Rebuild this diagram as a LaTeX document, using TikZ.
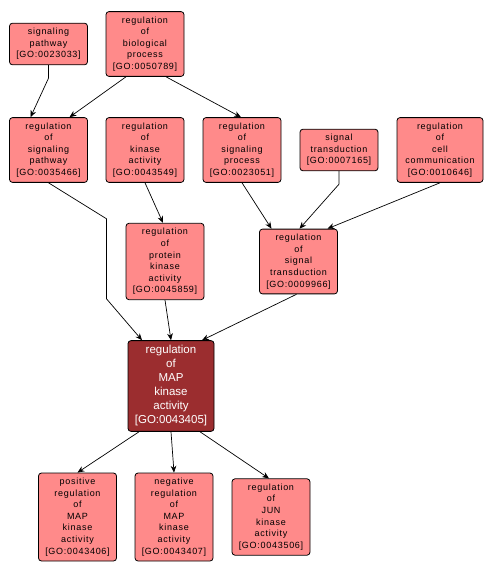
\documentclass[tikz,border=0pt]{standalone}
\usepackage{fontspec}
\setmainfont[LetterSpace=8]{Liberation Sans}
\newfontfamily\focusfont{Liberation Sans}
\usepackage{tikz}
\usetikzlibrary{arrows.meta}
\usepackage{xcolor}
\definecolor{termred}{HTML}{FF8A8A}
\definecolor{focusred}{HTML}{9B2D2F}

\begin{document}
\begin{tikzpicture}[
    x=1pt, y=-1pt,
    term/.style={rectangle, draw, line width=0.8pt, rounded corners=3pt, minimum width=78pt, inner xsep=4pt, inner ysep=5pt, fill=#1, font=\fontsize{9}{11.6}\selectfont, align=center},
    term/.default=termred,
    focus/.style={term=focusred, minimum width=86pt, text=white, font=\focusfont\fontsize{11.5}{14}\selectfont},
    arr/.style={-{Stealth[length=2.4mm, width=2mm]}, line width=0.7pt}
]
\useasboundingbox (0,0) rectangle (494,575);

% Top row
\node[term] (sp) at (48.5, 44) {signaling\\pathway\\{[GO:0023033]}};
\node[term] (rbp) at (145, 44) {regulation\\of\\biological\\process\\{[GO:0050789]}};

% Second row
\node[term] (rsp) at (48.5, 150) {regulation\\of\\signaling\\pathway\\{[GO:0035466]}};
\node[term] (rka) at (145, 150) {regulation\\of\\kinase\\activity\\{[GO:0043549]}};
\node[term] (rspr) at (242, 150) {regulation\\of\\signaling\\process\\{[GO:0023051]}};
\node[term] (st) at (339, 150) {signal\\transduction\\{[GO:0007165]}};
\node[term, minimum width=86pt] (rcc) at (440, 150) {regulation\\of\\cell\\communication\\{[GO:0010646]}};

% Third row
\node[term] (rpka) at (165, 261.5) {regulation\\of\\protein\\kinase\\activity\\{[GO:0045859]}};
\node[term] (rst) at (298.5, 261.5) {regulation\\of\\signal\\transduction\\{[GO:0009966]}};

% Focus term
\node[focus] (rmap) at (171, 386) {regulation\\of\\MAP\\kinase\\activity\\{[GO:0043405]}};

% Children
\node[term] (pos) at (77.5, 517) {positive\\regulation\\of\\MAP\\kinase\\activity\\{[GO:0043406]}};
\node[term] (neg) at (174, 517) {negative\\regulation\\of\\MAP\\kinase\\activity\\{[GO:0043407]}};
\node[term] (jun) at (271, 517) {regulation\\of\\JUN\\kinase\\activity\\{[GO:0043506]}};

% Arrows
\draw[arr] (sp.south) -- ++(0, 13) -- ([xshift=-18pt]rsp.north);
\draw[arr] ([xshift=-19pt]rbp.south) -- ([xshift=21pt]rsp.north);
\draw[arr] ([xshift=21pt]rbp.south) -- ([xshift=-1pt]rspr.north);
\draw[arr] (rsp.south) -- ++(58, 36) -- ++(0, 80) -- ([xshift=-29pt]rmap.north);
\draw[arr] (rka.south) -- ([xshift=-2pt]rpka.north);
\draw[arr] (rpka.south) -- (rmap.north);
\draw[arr] (rspr.south) -- ([xshift=-27pt]rst.north);
\draw[arr] (st.south) -- ++(0, 13) -- ([xshift=1pt]rst.north);
\draw[arr] (rcc.south) -- ([xshift=29pt]rst.north);
\draw[arr] ([xshift=-2pt]rst.south) -- ([xshift=31pt]rmap.north);
\draw[arr] ([xshift=-32pt]rmap.south) -- (pos.north);
\draw[arr] (rmap.south) -- (neg.north);
\draw[arr] ([xshift=29pt]rmap.south) -- ([xshift=-2pt]jun.north);

\end{tikzpicture}
\end{document}
